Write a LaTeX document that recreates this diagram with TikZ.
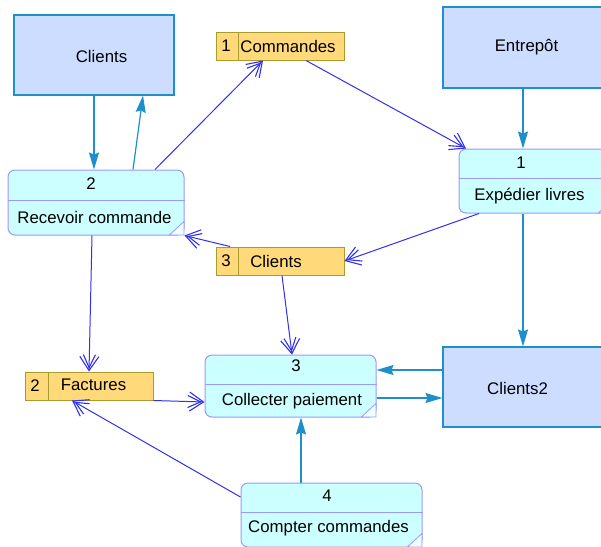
\documentclass[tikz,border=0pt]{standalone}
\usepackage{fontspec}
\setmainfont{Liberation Sans}
\usetikzlibrary{arrows.meta}
\definecolor{entfill}{HTML}{CCDDFF}
\definecolor{entline}{HTML}{1E8FCC}
\definecolor{procfill}{HTML}{CCFFFF}
\definecolor{procline}{HTML}{9999FF}
\definecolor{stfill}{HTML}{FFD97A}
\definecolor{stline}{HTML}{A89C2C}
\definecolor{dflow}{HTML}{3030EE}
\definecolor{cflow}{HTML}{1E8FCC}
\tikzset{
  txt/.style={font=\fontsize{16.8}{19}\selectfont, inner sep=0pt},
  entity/.style={draw=entline, fill=entfill, line width=1.1pt, inner sep=0pt},
  proc/.style={draw=procline, fill=procfill, line width=1pt, rounded corners=7pt, inner sep=0pt},
  store/.style={draw=stline, fill=stfill, line width=1pt, inner sep=0pt},
  pline/.style={draw=procline, line width=1pt},
  sline/.style={draw=stline, line width=1pt},
  fold/.style={draw=procline, fill=white!70!procfill, line width=0.8pt},
  dataflow/.style={draw=dflow, line width=1pt,
    -{Straight Barb[length=13pt,width=12pt,sep=-13pt,line width=1.1pt]Straight Barb[length=14pt,width=19pt,line width=1.1pt]}},
  ctrlflow/.style={draw=cflow, line width=1.2pt, -{Stealth[length=17pt,width=10pt,inset=2pt]}}
}
\begin{document}
\begin{tikzpicture}[x=1pt,y=-1pt]
\useasboundingbox (0,0) rectangle (601,546);
\clip (0,0) rectangle (601,546);
% external entities
\node[entity, minimum width=160pt, minimum height=80pt] (clients) at (94,55) {};
\node[txt] (tclients) at (101.5,56) {Clients};
\node[entity, minimum width=167pt, minimum height=81pt] (entre) at (526.5,47.5) {};
\node[txt] (tentre) at (526.5,47) {Entrepôt};
\node[entity, minimum width=167pt, minimum height=80pt] (cli2) at (526.5,387) {};
\node[txt] (tcli2) at (517.5,388) {Clients2};
% processes
\node[proc, minimum width=176pt, minimum height=65pt] (recv) at (96,202.5) {};
\node[proc, minimum width=154pt, minimum height=64pt] (exped) at (536,181) {};
\node[proc, minimum width=171pt, minimum height=62pt] (coll) at (290.5,386) {};
\node[proc, minimum width=181pt, minimum height=64pt] (compt) at (331.5,515) {};
% dividers and folds
\draw[pline] (recv.west |- 0,200) -- (recv.east |- 0,200);
\draw[pline] (exped.west |- 0,178) -- (exped.east |- 0,178);
\draw[pline] (coll.west |- 0,384) -- (coll.east |- 0,384);
\draw[pline] (compt.west |- 0,512) -- (compt.east |- 0,512);
\foreach \p in {recv,exped,coll,compt}{
  \filldraw[fold] ([xshift=-15pt,yshift=0.6pt]\p.south east) -- ([xshift=-0.6pt,yshift=14pt]\p.south east) -- ([xshift=-0.6pt,yshift=0.6pt]\p.south east) -- cycle;
}
\node[txt] (nrecv) at (91,184) {2};
\node[txt] (trecv) at (94.5,217) {Recevoir commande};
\node[txt] (nexped) at (521,163) {1};
\node[txt] (texped) at (529.5,196) {Expédier livres};
\node[txt] (ncoll) at (296,366) {3};
\node[txt] (tcoll) at (292,401) {Collecter paiement};
\node[txt] (ncompt) at (327,496) {4};
\node[txt] (tcompt) at (328.5,528) {Compter commandes};
% data stores
\node[store, minimum width=128pt, minimum height=28pt] (cmd) at (280,46) {};
\draw[sline] (238,0 |- cmd.north) -- (238,0 |- cmd.south);
\node[txt] (ncmd) at (226,46) {1};
\node[txt] (tcmd) at (288,46) {Commandes};
\node[store, minimum width=128pt, minimum height=28pt] (clist) at (280,261) {};
\draw[sline] (238,0 |- clist.north) -- (238,0 |- clist.south);
\node[txt] (nclist) at (226,261) {3};
\node[txt] (tclist) at (276,261) {Clients};
\node[store, minimum width=128pt, minimum height=28pt] (fact) at (89,386) {};
\draw[sline] (48,0 |- fact.north) -- (48,0 |- fact.south);
\node[txt] (nfact) at (35,386) {2};
\node[txt] (tfact) at (93.5,385) {Factures};
% helper coordinates
\coordinate (xe) at (523,0);
\coordinate (xc) at (301,0);
% control flows
\draw[ctrlflow] (clients.south) -- (clients.south |- recv.north);
\draw[ctrlflow] ([xshift=37pt]recv.north) -- ([xshift=49pt]clients.south);
\draw[ctrlflow] (entre.south -| xe) -- (exped.north -| xe);
\draw[ctrlflow] (exped.south -| xe) -- (cli2.north -| xe);
\draw[ctrlflow] ([yshift=17pt]cli2.west) -- ([yshift=17pt]cli2.west -| coll.east);
\draw[ctrlflow] ([yshift=-12pt]coll.east) -- ([yshift=-12pt]coll.east -| cli2.west);
\draw[ctrlflow] (compt.north -| xc) -- (coll.south -| xc);
% data flows
\draw[dataflow] ([xshift=59pt]recv.north) -- ([xshift=-17pt]cmd.south);
\draw[dataflow] ([xshift=26pt]cmd.south) -- ([xshift=-70pt]exped.north);
\draw[dataflow] ([xshift=-57pt]exped.south) -- (clist.east);
\draw[dataflow] ([xshift=-50pt]clist.north) -- (recv.south east);
\draw[dataflow] ([xshift=2pt]clist.south) -- ([xshift=1.5pt]coll.north);
\draw[dataflow] ([xshift=-4pt]recv.south) -- (fact.north);
\draw[dataflow] (fact.south east) -- ([yshift=-16pt]coll.west);
\draw[dataflow] ([yshift=18pt]compt.west) -- ([xshift=-17pt]fact.south);
\end{tikzpicture}
\end{document}
